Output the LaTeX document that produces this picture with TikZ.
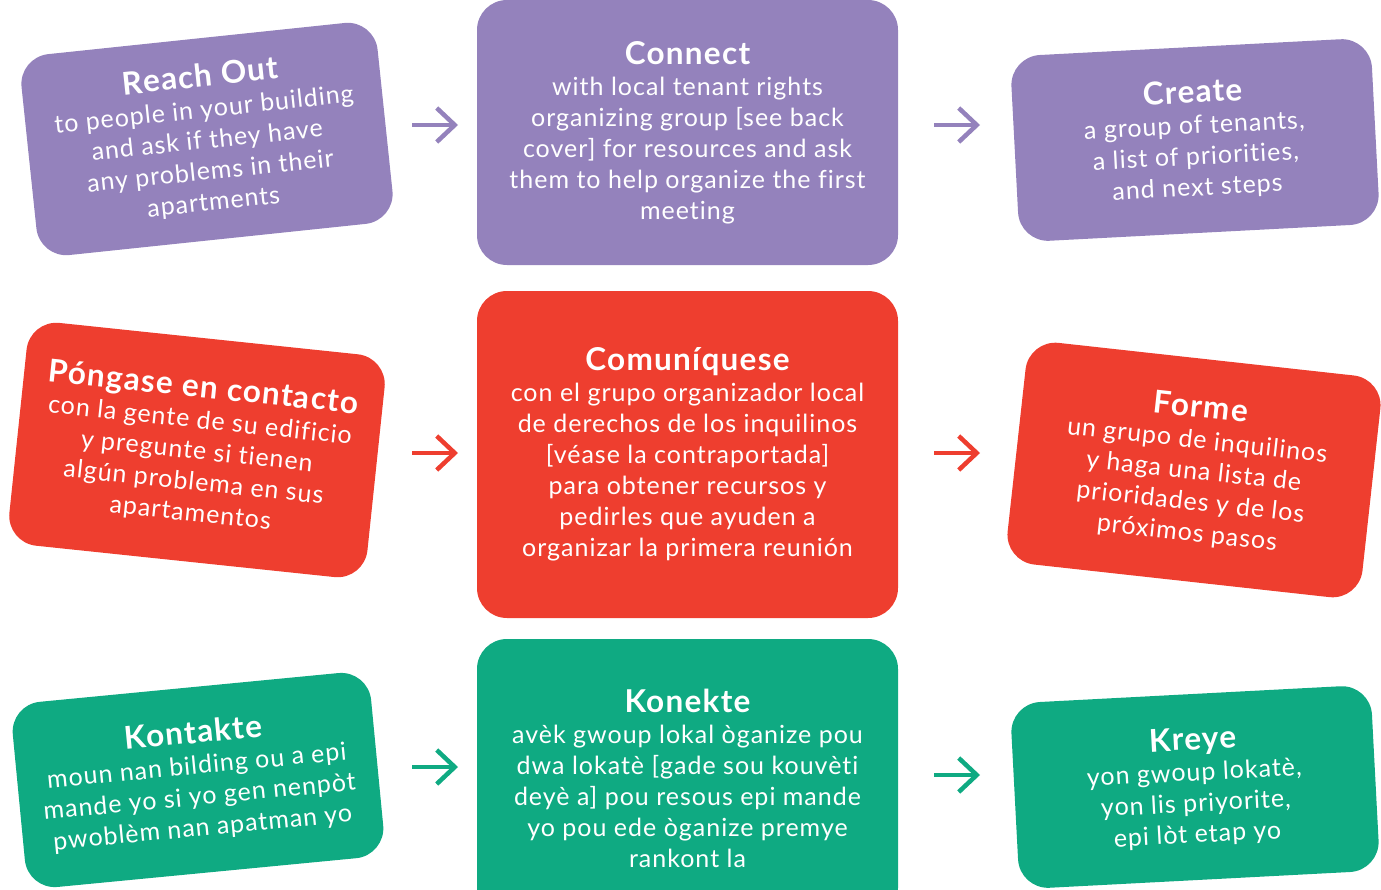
\documentclass[tikz,border=0pt]{standalone}
\usepackage{fontspec}
\setmainfont{Lato}
\newfontfamily\bodyfont[LetterSpace=4, Ligatures=NoCommon]{Lato}
\newfontfamily\headfont[LetterSpace=4, Ligatures=NoCommon]{Lato}
\usetikzlibrary{arrows.meta}
\definecolor{lav}{HTML}{9482BC}
\definecolor{tomato}{HTML}{EE3E2F}
\definecolor{jade}{HTML}{0FAA82}
\tikzset{
  card/.style={rounded corners=30pt, inner sep=0pt, text=white, align=center,
    font=\bodyfont\fontsize{25}{31}\selectfont},
  flowarrow/.style={line width=4.5pt, line cap=butt, -{Straight Barb[length=18pt,width=34pt]}},
}
\newcommand\cardhead[1]{{\headfont\bfseries\fontsize{31.5}{34}\selectfont #1}\\}
\begin{document}
\begin{tikzpicture}[x=1pt,y=-1pt]
\useasboundingbox (0,0) rectangle (1381,889);
\clip (0,0) rectangle (1381,889);

% English row
\node[card, fill=lav, minimum width=358pt, minimum height=202pt, rotate=6] (reach) at (207,139)
  {\cardhead{Reach Out}to people in your building\\and ask if they have\\any problems in their\\apartments};
\node[card, fill=lav, minimum width=421pt, minimum height=265pt] (connect) at (687.5,132.5)
  {\cardhead{Connect}with local tenant rights\\organizing group [see back\\cover] for resources and ask\\them to help organize the first\\meeting};
\node[card, fill=lav, minimum width=361pt, minimum height=186pt, rotate=3] (create) at (1195,140)
  {\cardhead{Create}a group of tenants,\\a list of priorities,\\and next steps};

% Spanish row
\node[card, fill=tomato, minimum width=360pt, minimum height=224pt, rotate=-6] (contacto) at (197,450)
  {\cardhead{Póngase en contacto}con la gente de su edificio\\y pregunte si tienen\\algún problema en sus\\apartamentos};
\node[card, fill=tomato, minimum width=421pt, minimum height=327pt] (comuniquese) at (687.5,454.5)
  {\cardhead{Comuníquese}con el grupo organizador local\\de derechos de los inquilinos\\{[}véase la contraportada]\\para obtener recursos y\\pedirles que ayuden a\\organizar la primera reunión};
\node[card, fill=tomato, minimum width=357pt, minimum height=223pt, rotate=-6.3] (forme) at (1194,470)
  {\cardhead{Forme}un grupo de inquilinos\\y haga una lista de\\prioridades y de los\\próximos pasos};

% Haitian Creole row
\node[card, fill=jade, minimum width=360pt, minimum height=186pt, rotate=5.5] (kontakte) at (198,780)
  {\cardhead{Kontakte}moun nan bilding ou a epi\\mande yo si yo gen nenpòt\\pwoblèm nan apatman yo};
\node[card, fill=jade, minimum width=421pt, minimum height=279pt] (konekte) at (687.5,778.5)
  {\cardhead{Konekte}avèk gwoup lokal òganize pou\\dwa lokatè [gade sou kouvèti\\deyè a] pou resous epi mande\\yo pou ede òganize premye\\rankont la};
\node[card, fill=jade, minimum width=361pt, minimum height=186pt, rotate=3] (kreye) at (1195,787)
  {\cardhead{Kreye}yon gwoup lokatè,\\yon lis priyorite,\\epi lòt etap yo};

% arrow end points
\coordinate (r1a) at (412,125); \coordinate (r1b) at (458,125);
\coordinate (r1c) at (934,125); \coordinate (r1d) at (980,125);
\coordinate (r2a) at (412,453); \coordinate (r2b) at (458,453);
\coordinate (r2c) at (934,453); \coordinate (r2d) at (980,453);
\coordinate (r3a) at (412,767); \coordinate (r3b) at (458,767);
\coordinate (r3c) at (934,775); \coordinate (r3d) at (980,775);

\draw[flowarrow, lav] (r1a) -- (r1b);
\draw[flowarrow, lav] (r1c) -- (r1d);
\draw[flowarrow, tomato] (r2a) -- (r2b);
\draw[flowarrow, tomato] (r2c) -- (r2d);
\draw[flowarrow, jade] (r3a) -- (r3b);
\draw[flowarrow, jade] (r3c) -- (r3d);
\end{tikzpicture}
\end{document}
